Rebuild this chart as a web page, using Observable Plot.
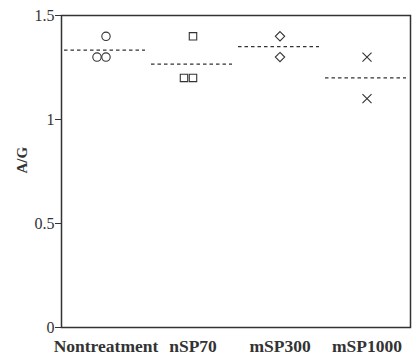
<!DOCTYPE html>
<html><head><meta charset="utf-8">
<script src="https://cdn.jsdelivr.net/npm/d3@7"></script>
<script src="https://cdn.jsdelivr.net/npm/@observablehq/plot@0.6"></script>
<style>body{margin:0;background:#fff}</style>
</head><body><div id="chart"></div>
<script>
const groups = ["Nontreatment", "nSP70", "mSP300", "mSP1000"];
const symbols = ["circle", "square", "diamond2", "times"];
const values = [[1.4, 1.3, 1.3], [1.4, 1.2, 1.2], [1.4, 1.3], [1.3, 1.1]];
const yTicks = [0, 0.5, 1, 1.5];

const points = [];
groups.forEach((g, i) => {
  const seen = {};
  values[i].forEach(v => {
    const k = seen[v] || 0; seen[v] = k + 1;
    points.push({group: g, value: v, symbol: symbols[i], dup: k});
  });
});
const means = groups.map((g, i) => ({group: g, mean: d3.mean(values[i])}));
const ink = "#333";
const font = "'Liberation Serif', 'Times New Roman', serif";

const chart = Plot.plot({
  width: 415, height: 356,
  marginLeft: 61, marginRight: 5, marginTop: 15, marginBottom: 29,
  style: {fontFamily: font, fontSize: "16px", color: ink, background: "#fff"},
  x: {domain: groups, padding: 0, label: null},
  y: {domain: [0, 1.5], label: null},
  symbol: {domain: symbols, range: symbols},
  marks: [
    Plot.frame({stroke: ink, strokeWidth: 1.5}),
    Plot.axisY({ticks: yTicks, tickSize: 6, tickPadding: 1, stroke: ink, fill: ink, fontSize: 16, tickFormat: d => String(d)}),
    Plot.text(["A/G"], {frameAnchor: "left", dx: -39, dy: 2, rotate: -90, fontWeight: "bold", fontSize: 15, fill: ink}),
    Plot.axisX({tickSize: 0, tickPadding: 12, fontWeight: "bold", fill: ink, fontSize: 17.5}),
    Plot.tickY(means, {x: "group", y: "mean", stroke: ink, strokeDasharray: "3.5,3", strokeWidth: 1.2, insetLeft: 2, insetRight: 4}),
    Plot.dot(points.filter(d => d.dup === 0), {x: "group", y: "value", symbol: "symbol", r: 4.2, stroke: ink, strokeWidth: 1.1, fill: "none"}),
    Plot.dot(points.filter(d => d.dup === 1), {x: "group", y: "value", symbol: "symbol", r: 4.2, dx: -9, stroke: ink, strokeWidth: 1.1, fill: "none"})
  ]
});
document.getElementById("chart").append(chart);
</script>
</body></html>
